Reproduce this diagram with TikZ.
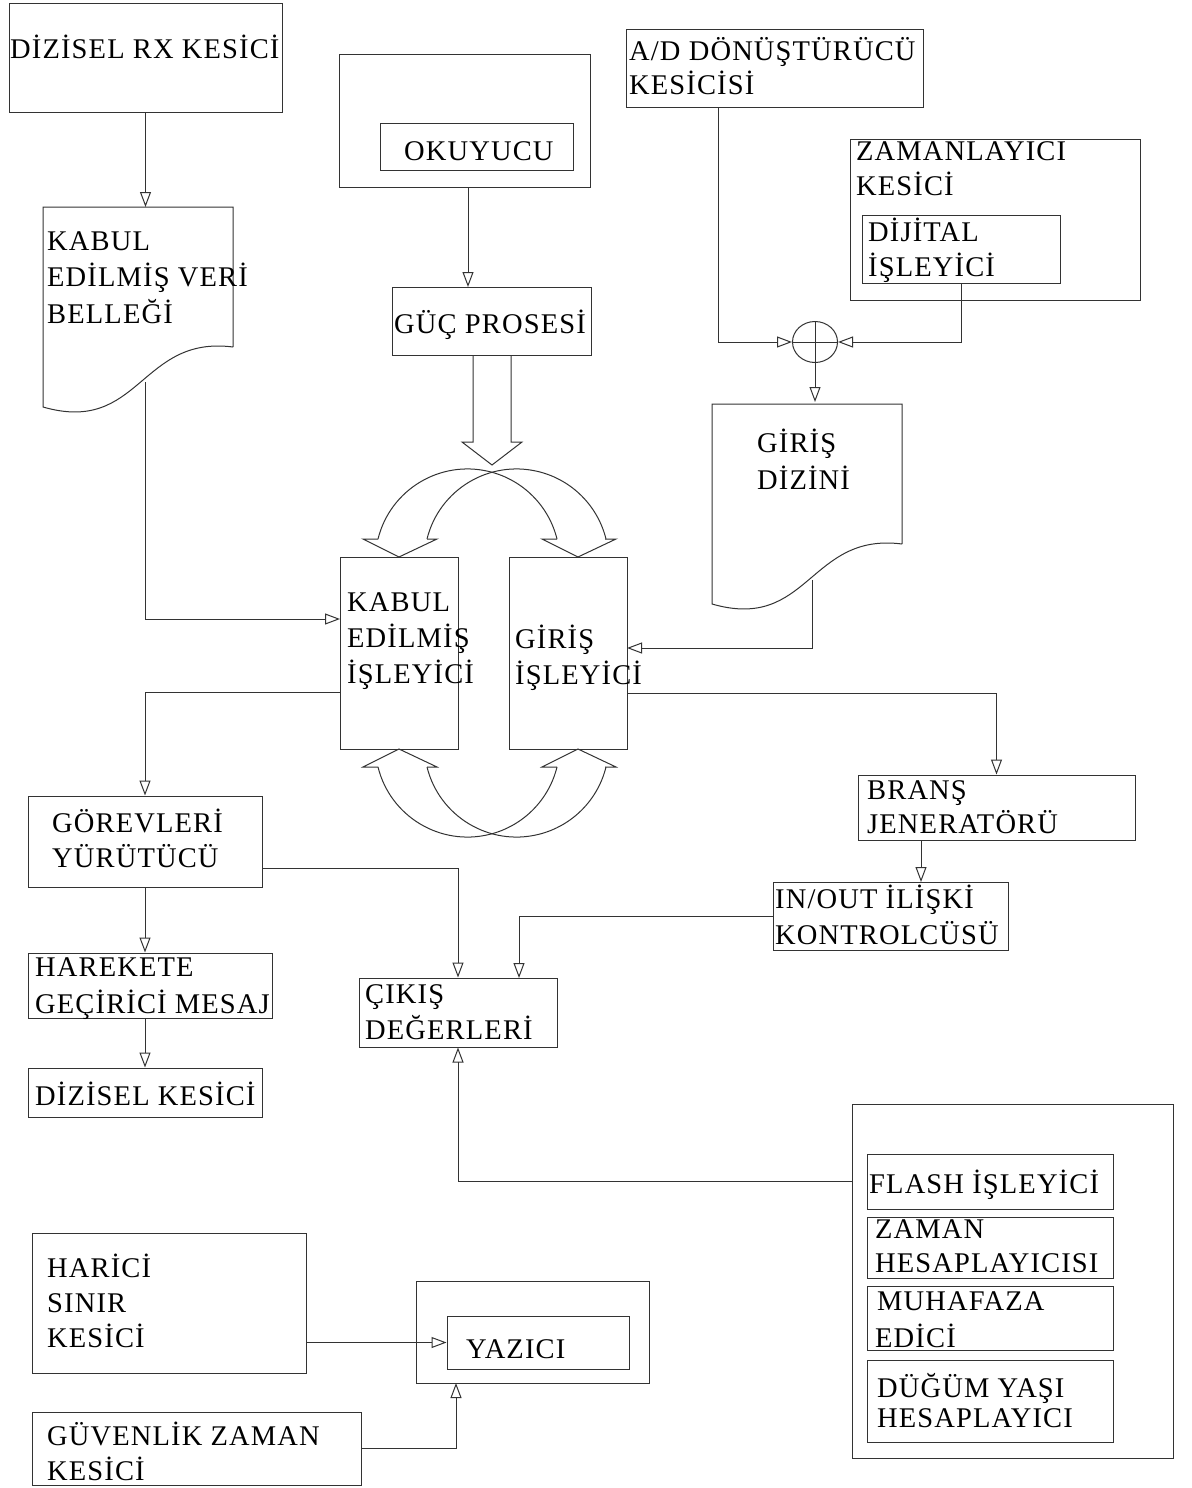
\documentclass[tikz,border=0pt]{standalone}
\usepackage{fontspec}
\setmainfont{Liberation Serif}[LetterSpace=4]
\usetikzlibrary{arrows.meta,shapes.geometric,fit}
\tikzset{
  box/.style={draw=black!80, line width=1pt, inner sep=0pt},
  txt/.style={inner sep=0pt, anchor=base west, font=\fontsize{28.5}{34}\selectfont},
  ln/.style={draw=black!80, line width=1pt},
  arr/.style={draw=black!80, line width=1pt, -{Triangle[open, length=15pt, width=11pt]}},
}
\begin{document}
\begin{tikzpicture}[x=1pt,y=1pt]
\fill[white] (0,0) rectangle (1191,-1488);
\useasboundingbox (0,0) rectangle (1191,-1488);

% ---------- boxes ----------
\node[box, fit={(9,-4) (282,-112)}] (rx) {};
\node[box, fit={(339,-55) (590,-187)}] (okout) {};
\node[box, fit={(380,-123) (573,-170)}] (okin) {};
\node[box, fit={(392,-287) (591,-355)}] (guc) {};
\node[box, fit={(626,-30) (923,-107)}] (ad) {};
\node[box, fit={(850,-139) (1140,-300)}] (zam) {};
\node[box, fit={(862,-215) (1060,-283)}] (dij) {};
\node[box, fit={(340,-557) (458,-749)}] (kabul) {};
\node[box, fit={(509,-557) (627,-749)}] (giris) {};
\node[box, fit={(28,-796) (262,-887)}] (gorev) {};
\node[box, fit={(858,-775) (1135,-840)}] (brans) {};
\node[box, fit={(773,-882) (1008,-950)}] (io) {};
\node[box, fit={(28,-953) (272,-1018)}] (hare) {};
\node[box, fit={(359,-978) (557,-1047)}] (cik) {};
\node[box, fit={(28,-1068) (262,-1117)}] (dk) {};
\node[box, fit={(852,-1104) (1173,-1458)}] (big) {};
\node[box, fit={(867,-1154) (1113,-1209)}] (flash) {};
\node[box, fit={(867,-1217) (1113,-1278)}] (zh) {};
\node[box, fit={(867,-1286) (1113,-1350)}] (muh) {};
\node[box, fit={(867,-1360) (1113,-1442)}] (dug) {};
\node[box, fit={(32,-1233) (306,-1373)}] (harici) {};
\node[box, fit={(416,-1281) (649,-1383)}] (yzout) {};
\node[box, fit={(447,-1316) (629,-1369)}] (yaz) {};
\node[box, fit={(32,-1412) (361,-1485)}] (guv) {};
\node[box, ellipse, minimum width=45pt, minimum height=41pt] (sum) at (815,-342) {};
\draw[ln] (sum.north) -- (sum.south);
\draw[ln] (sum.west) -- (sum.east);

% ---------- documents ----------
\draw[ln] (233,-347) -- (233,-207) -- (43,-207) -- (43,-407)
  .. controls (140,-435) and (140,-335) .. (233,-347);
\begin{scope}[shift={(669,-197)}]
\draw[ln] (233,-347) -- (233,-207) -- (43,-207) -- (43,-407)
  .. controls (140,-435) and (140,-335) .. (233,-347);
\end{scope}

% ---------- block arrow ----------
\draw[ln] (473,-355) -- (473,-442) -- (462,-442) -- (492,-465) -- (522,-442) -- (511,-442) -- (511,-355);

% ---------- curved arrows (top) ----------
\draw[ln] (378,-539) arc[start angle=166.1, end angle=13.9, radius=92.2];
\draw[ln] (427,-539) arc[start angle=166.1, end angle=13.9, radius=92.2];
\draw[ln] (378,-539) -- (363,-539) -- (399,-557) -- (437,-539) -- (427,-539);
\draw[ln] (557,-539) -- (542,-539) -- (578,-557) -- (616,-539) -- (605,-539);
% ---------- curved arrows (bottom) ----------
\draw[ln] (378,-767) arc[start angle=193.9, end angle=346.1, radius=92.2];
\draw[ln] (427,-767) arc[start angle=193.9, end angle=346.1, radius=92.2];
\draw[ln] (378,-767) -- (363,-767) -- (399,-749) -- (437,-767) -- (427,-767);
\draw[ln] (557,-767) -- (542,-767) -- (578,-749) -- (616,-767) -- (605,-767);

% ---------- connector coordinates ----------
\coordinate (kdoctop) at (145.5,-207);
\coordinate (kdocb) at (145,-382);
\coordinate (kin) at (340,-619);
\coordinate (okb) at (468,-187);
\coordinate (guct) at (468,-287);
\coordinate (adb) at (718,-107);
\coordinate (gdoctop) at (815,-402);
\coordinate (gdocb) at (812,-580);
\coordinate (gin) at (627,-648);
\coordinate (kout) at (340,-692);
\coordinate (gout) at (627,-693);
\coordinate (bb) at (921,-840);
\coordinate (iot) at (921,-882);
\coordinate (ciktr) at (519,-978);
\coordinate (gore) at (262,-868);
\coordinate (bigl) at (852,-1181);
\coordinate (yzb) at (456,-1383);

% ---------- connectors ----------
\draw[arr] (rx.south) -- (kdoctop);
\draw[arr] (kdocb) |- (kin);
\draw[arr] (okb) -- (guct);
\draw[arr] (adb) |- (sum.west);
\draw[arr] (dij.south) |- (sum.east);
\draw[arr] (sum.south) -- (gdoctop);
\draw[arr] (gdocb) |- (gin);
\draw[arr] (kout) -| (gorev.north);
\draw[arr] (gout) -| (brans.north);
\draw[arr] (bb) -- (iot);
\draw[arr] (io.west) -| (ciktr);
\draw[arr] (gore) -| (cik.north);
\draw[arr] (gorev.south) -- (gorev.south |- hare.north);
\draw[arr] (dk.north |- hare.south) -- (dk.north);
\draw[arr] (bigl) -| (cik.south);
\draw[arr] (harici.east |- yaz.west) -- (yaz.west);
\draw[arr] (guv.east) -| (yzb);

% ---------- texts ----------
\node[txt] (t1) at (10,-59) {DİZİSEL RX KESİCİ};
\node[txt] (t2a) at (47,-250) {KABUL};
\node[txt] (t2b) at (47,-286) {EDİLMİŞ VERİ};
\node[txt] (t2c) at (47,-323) {BELLEĞİ};
\node[txt] (t3) at (404,-160) {OKUYUCU};
\node[txt] (t4) at (394,-333) {GÜÇ PROSESİ};
\node[txt] (t5a) at (629,-60) {A/D DÖNÜŞTÜRÜCÜ};
\node[txt] (t5b) at (629,-95) {KESİCİSİ};
\node[txt] (t6a) at (856,-160) {ZAMANLAYICI};
\node[txt] (t6b) at (856,-195) {KESİCİ};
\node[txt] (t7a) at (868,-241) {DİJİTAL};
\node[txt] (t7b) at (868,-276) {İŞLEYİCİ};
\node[txt] (t8a) at (757,-452) {GİRİŞ};
\node[txt] (t8b) at (757,-489) {DİZİNİ};
\node[txt] (t9a) at (347,-611) {KABUL};
\node[txt] (t9b) at (347,-647) {EDİLMİŞ};
\node[txt] (t9c) at (347,-683) {İŞLEYİCİ};
\node[txt] (t10a) at (515,-648) {GİRİŞ};
\node[txt] (t10b) at (515,-684) {İŞLEYİCİ};
\node[txt] (t11a) at (52,-832) {GÖREVLERİ};
\node[txt] (t11b) at (52,-867) {YÜRÜTÜCÜ};
\node[txt] (t12a) at (867,-799) {BRANŞ};
\node[txt] (t12b) at (867,-833) {JENERATÖRÜ};
\node[txt] (t13a) at (775,-908) {IN/OUT İLİŞKİ};
\node[txt] (t13b) at (775,-944) {KONTROLCÜSÜ};
\node[txt] (t14a) at (35,-976) {HAREKETE};
\node[txt] (t14b) at (35,-1013) {GEÇİRİCİ MESAJ};
\node[txt] (t15a) at (365,-1003) {ÇIKIŞ};
\node[txt] (t15b) at (365,-1039) {DEĞERLERİ};
\node[txt] (t16) at (35,-1105) {DİZİSEL KESİCİ};
\node[txt] (t17) at (869,-1193) {FLASH İŞLEYİCİ};
\node[txt] (t18a) at (875,-1238) {ZAMAN};
\node[txt] (t18b) at (875,-1272) {HESAPLAYICISI};
\node[txt] (t19a) at (877,-1310) {MUHAFAZA};
\node[txt] (t19b) at (875,-1347) {EDİCİ};
\node[txt] (t20a) at (877,-1397) {DÜĞÜM YAŞI};
\node[txt] (t20b) at (877,-1427) {HESAPLAYICI};
\node[txt] (t21a) at (47,-1277) {HARİCİ};
\node[txt] (t21b) at (47,-1312) {SINIR};
\node[txt] (t21c) at (47,-1347) {KESİCİ};
\node[txt] (t22) at (466,-1358) {YAZICI};
\node[txt] (t23a) at (47,-1445) {GÜVENLİK ZAMAN};
\node[txt] (t23b) at (47,-1480) {KESİCİ};
\end{tikzpicture}
\end{document}
